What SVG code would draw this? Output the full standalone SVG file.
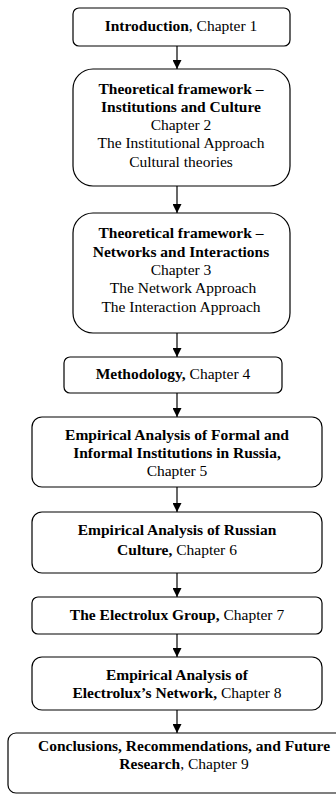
<svg xmlns="http://www.w3.org/2000/svg" width="336" height="794" viewBox="0 0 336 794">
<style>
.box{fill:#fff;stroke:#000;stroke-width:1.2}
text{font-family:"Liberation Serif","Times New Roman",serif;font-size:15.5px;fill:#000;text-anchor:middle}
.b{font-weight:bold}
.edge{stroke:#000;stroke-width:1.2;fill:none;marker-end:url(#arr)}
</style>
<defs>
<marker id="arr" viewBox="0 0 10 10" refX="10" refY="5" markerWidth="10" markerHeight="9" markerUnits="userSpaceOnUse" orient="auto">
<path d="M0,0 L10,5 L0,10 Z" fill="#000"/>
</marker>
</defs>
<rect width="336" height="794" fill="#fff"/>
<g id="connectors">
<line class="edge" x1="177" y1="46" x2="177" y2="69"/>
<line class="edge" x1="177" y1="186" x2="177" y2="213"/>
<line class="edge" x1="177" y1="333" x2="177" y2="357"/>
<line class="edge" x1="177" y1="393" x2="177" y2="417"/>
<line class="edge" x1="177" y1="487" x2="177" y2="512"/>
<line class="edge" x1="177" y1="573" x2="177" y2="597"/>
<line class="edge" x1="177" y1="634" x2="177" y2="657"/>
<line class="edge" x1="177" y1="710" x2="177" y2="733"/>
</g>
<g id="n1">
<rect class="box" x="73" y="8" width="217" height="38" rx="6"/>
<text x="181" y="31"><tspan class="b">Introduction</tspan>, Chapter 1</text>
</g>
<g id="n2">
<rect class="box" x="73" y="69" width="217" height="117" rx="20"/>
<text x="181" y="94" class="b">Theoretical framework –</text>
<text x="181" y="112" class="b">Institutions and Culture</text>
<text x="181" y="130">Chapter 2</text>
<text x="181" y="148">The Institutional Approach</text>
<text x="181" y="167">Cultural theories</text>
</g>
<g id="n3">
<rect class="box" x="73" y="213" width="217" height="120" rx="20"/>
<text x="181" y="238" class="b">Theoretical framework –</text>
<text x="181" y="257" class="b">Networks and Interactions</text>
<text x="181" y="275">Chapter 3</text>
<text x="183" y="293">The Network Approach</text>
<text x="181" y="312">The Interaction Approach</text>
</g>
<g id="n4">
<rect class="box" x="64" y="357" width="218" height="36" rx="6"/>
<text x="173" y="379"><tspan class="b">Methodology,</tspan> Chapter 4</text>
</g>
<g id="n5">
<rect class="box" x="32" y="417" width="290" height="70" rx="10"/>
<text x="177" y="440" class="b">Empirical Analysis of Formal and</text>
<text x="177" y="458" class="b">Informal Institutions in Russia,</text>
<text x="177" y="476">Chapter 5</text>
</g>
<g id="n6">
<rect class="box" x="32" y="512" width="290" height="61" rx="10"/>
<text x="177" y="535" class="b">Empirical Analysis of Russian</text>
<text x="177" y="555"><tspan class="b">Culture,</tspan> Chapter 6</text>
</g>
<g id="n7">
<rect class="box" x="32" y="597" width="290" height="37" rx="6"/>
<text x="177" y="620"><tspan class="b">The Electrolux Group,</tspan> Chapter 7</text>
</g>
<g id="n8">
<rect class="box" x="32" y="657" width="290" height="53" rx="10"/>
<text x="177" y="680" class="b">Empirical Analysis of</text>
<text x="177" y="698"><tspan class="b">Electrolux’s Network,</tspan> Chapter 8</text>
</g>
<g id="n9">
<rect class="box" x="8" y="733" width="352" height="60" rx="8"/>
<text x="184" y="751"><tspan class="b">Conclusions, Recommendations, and Future</tspan></text>
<text x="184" y="769"><tspan class="b">Research</tspan>, Chapter 9</text>
</g>
</svg>
